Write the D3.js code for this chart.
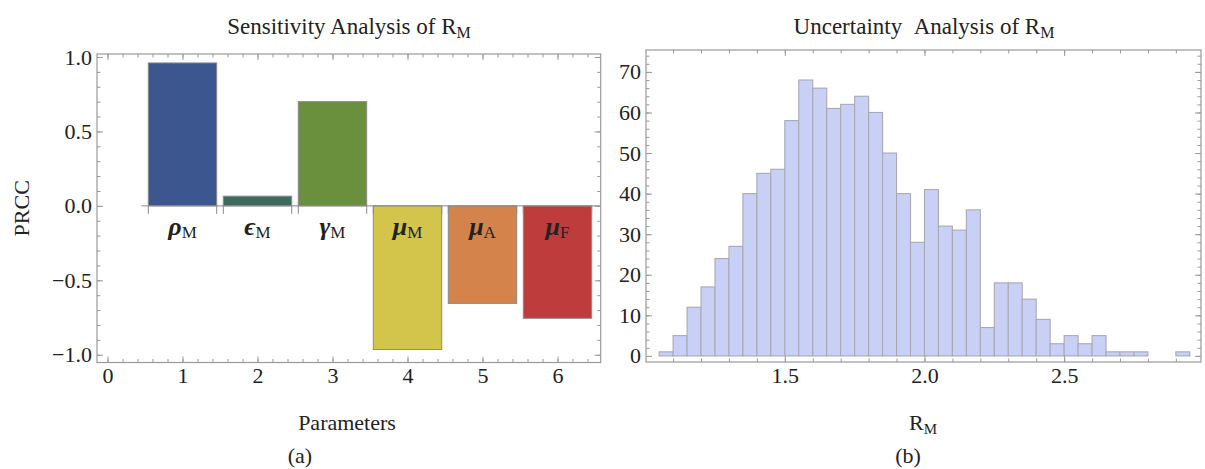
<!DOCTYPE html>
<html>
<head>
<meta charset="utf-8">
<script src="https://cdn.jsdelivr.net/npm/d3@7"></script>
<style>
  body { margin: 0; background: #fff; }
  svg text { font-family: "Liberation Serif", "Times New Roman", serif; fill: #222; }
</style>
</head>
<body>
<svg id="chart" width="1205" height="469"></svg>
<script>
// panel (a): PRCC values per parameter
const paramNames = ["ρ", "ϵ", "γ", "μ", "μ", "μ"]
const paramSubs  = ["M", "M", "M", "M", "A", "F"]
const paramPos   = [1, 2, 3, 4, 5, 6]
const prcc       = [0.96, 0.065, 0.70, -0.965, -0.655, -0.755]
const barColors  = ["#3c5790", "#3e6b60", "#6b903d", "#d3c54b", "#d4844b", "#bf3c3c"]
const prccTicks  = [-1.0, -0.5, 0.0, 0.5, 1.0]
const paramTicks = [0, 1, 2, 3, 4, 5, 6]

// panel (b): histogram of R_M (bin lower edge, count)
const binLo  = [1.05, 1.10, 1.15, 1.20, 1.25, 1.30, 1.35, 1.40, 1.45, 1.50,
                1.55, 1.60, 1.65, 1.70, 1.75, 1.80, 1.85, 1.90, 1.95, 2.00,
                2.05, 2.10, 2.15, 2.20, 2.25, 2.30, 2.35, 2.40, 2.45, 2.50,
                2.55, 2.60, 2.65, 2.70, 2.75, 2.80, 2.85, 2.90]
const counts = [1, 5, 12, 17, 24, 27, 40, 45, 46, 58,
                68, 66, 61, 62, 64, 60, 50, 40, 28, 41,
                32, 31, 36, 7, 18, 18, 14, 9, 3, 5,
                3, 5, 1, 1, 1, 0, 0, 1]
const binW = 0.05
const countTicks = [0, 10, 20, 30, 40, 50, 60, 70]
const rTicks = [1.5, 2.0, 2.5]

const svg = d3.select("#chart")
const frameCol = "#9a9a9a"
const serif = '"Liberation Serif", "Times New Roman", serif'

// frame with inward ticks on all 4 sides
function frame(g, x, y, xMajor, xMinor, yMajor, yMinor, xFmt, yFmt) {
  const [x0, x1] = x.range()
  const [y1, y0] = y.range()
  const sides = [
    [() => d3.axisBottom(x), `translate(0,${y1})`, xMajor, xMinor, xFmt],
    [() => d3.axisTop(x), `translate(0,${y0})`, xMajor, xMinor, null],
    [() => d3.axisLeft(y), `translate(${x0},0)`, yMajor, yMinor, yFmt],
    [() => d3.axisRight(y), `translate(${x1},0)`, yMajor, yMinor, null]
  ]
  sides.forEach(([mk, tr, major, minor, fmt]) => {
    const gm = g.append("g").attr("transform", tr)
      .call(mk().tickValues(minor).tickSize(-3.5).tickFormat(""))
    gm.select(".domain").remove()
    gm.selectAll("text").remove()
    gm.selectAll("line").attr("stroke", frameCol)

    const gM = g.append("g").attr("transform", tr)
      .call(mk().tickValues(major).tickSize(-6).tickPadding(5).tickFormat(fmt ? fmt : ""))
    gM.attr("font-family", serif).attr("font-size", 22)
    gM.select(".domain").remove()
    gM.selectAll("line").attr("stroke", frameCol)
    gM.selectAll("text").attr("fill", "#222")
      .style("font-family", serif).style("font-size", "22px")
  })
  g.append("rect")
    .attr("x", x0).attr("y", y0).attr("width", x1 - x0).attr("height", y1 - y0)
    .attr("fill", "none").attr("stroke", frameCol).attr("stroke-width", 1.2)
}

// ---------- panel (a)
const xL = d3.scaleLinear().domain([-0.14, 6.576]).range([97, 600.7])
const yL = d3.scaleLinear().domain([-1.052, 1.02]).range([362.5, 54])
const half = 0.456
const gA = svg.append("g")

gA.append("g").selectAll("rect")
  .data(prcc)
  .join("rect")
  .attr("x", (d, i) => xL(paramPos[i] - half))
  .attr("width", xL(half * 2) - xL(0))
  .attr("y", d => yL(Math.max(0, d)))
  .attr("height", d => Math.abs(yL(d) - yL(0)))
  .attr("fill", (d, i) => barColors[i])
  .attr("stroke", "#8a8a8a")
  .attr("stroke-width", 1)

// baseline with little ticks at the bar edges
gA.append("line")
  .attr("x1", xL(paramPos[0] - half - 0.09)).attr("x2", xL.range()[1])
  .attr("y1", yL(0)).attr("y2", yL(0))
  .attr("stroke", "#8a8a8a").attr("stroke-width", 1)
paramPos.forEach(p => {
  [p - half, p + half].forEach(e => {
    gA.append("line")
      .attr("x1", xL(e)).attr("x2", xL(e))
      .attr("y1", yL(0)).attr("y2", yL(0) + 8)
      .attr("stroke", "#8a8a8a")
  })
})

// parameter labels
const lab = gA.append("g").selectAll("text")
  .data(paramNames)
  .join("text")
  .attr("x", (d, i) => xL(paramPos[i]))
  .attr("y", yL(0) + 29)
  .attr("text-anchor", "middle")
lab.append("tspan")
  .style("font-size", "26px").style("font-weight", "bold").style("font-style", "italic")
  .text(d => d)
lab.append("tspan")
  .style("font-size", "17px").attr("dy", 3)
  .text((d, i) => paramSubs[i])

frame(gA, xL, yL,
  paramTicks, d3.range(-0.2, 6.6, 0.2).filter(v => v > -0.14),
  prccTicks, d3.range(-1.0, 1.01, 0.1),
  d3.format("d"), d3.format(".1f"))

// titles and axis labels
const tA = gA.append("text").attr("x", 349).attr("y", 34)
  .attr("text-anchor", "middle").style("font-size", "23px")
tA.append("tspan").text("Sensitivity Analysis of R")
tA.append("tspan").style("font-size", "16px").attr("dy", 4).text("M")

gA.append("text")
  .attr("transform", `translate(29,${(yL.range()[0] + yL.range()[1]) / 2}) rotate(-90)`)
  .attr("text-anchor", "middle").style("font-size", "22px").text("PRCC")
gA.append("text").attr("x", 347).attr("y", 430)
  .attr("text-anchor", "middle").style("font-size", "22px").text("Parameters")
gA.append("text").attr("x", 300).attr("y", 463)
  .attr("text-anchor", "middle").style("font-size", "22px").text("(a)")

// ---------- panel (b)
const xR = d3.scaleLinear().domain([1.003, 2.99]).range([646, 1201])
const yR = d3.scaleLinear().domain([-1.5, 75.4]).range([362, 50])
const gB = svg.append("g")

const bins = binLo.map((lo, i) => ({ lo: lo, n: counts[i] })).filter(b => b.n > 0)

gB.append("g").selectAll("rect")
  .data(bins)
  .join("rect")
  .attr("x", d => xR(d.lo))
  .attr("width", d => xR(d.lo + binW) - xR(d.lo))
  .attr("y", d => yR(d.n))
  .attr("height", d => yR(0) - yR(d.n))
  .attr("fill", "#c8d0f5")
  .attr("stroke", "#a9a9b4")
  .attr("stroke-width", 1.1)

frame(gB, xR, yR,
  rTicks, d3.range(1.1, 2.99, 0.1),
  countTicks, d3.range(0, 76, 2),
  d3.format(".1f"), d3.format("d"))

const tB = gB.append("text").attr("x", 924).attr("y", 34)
  .attr("text-anchor", "middle").style("font-size", "23px")
tB.append("tspan").text("Uncertainty\u00a0\u00a0Analysis of R")
tB.append("tspan").style("font-size", "16px").attr("dy", 4).text("M")

const xlB = gB.append("text").attr("x", 923).attr("y", 430)
  .attr("text-anchor", "middle").style("font-size", "22px")
xlB.append("tspan").text("R")
xlB.append("tspan").style("font-size", "15px").attr("dy", 4).text("M")
gB.append("text").attr("x", 908).attr("y", 463)
  .attr("text-anchor", "middle").style("font-size", "22px").text("(b)")
</script>
</body>
</html>
